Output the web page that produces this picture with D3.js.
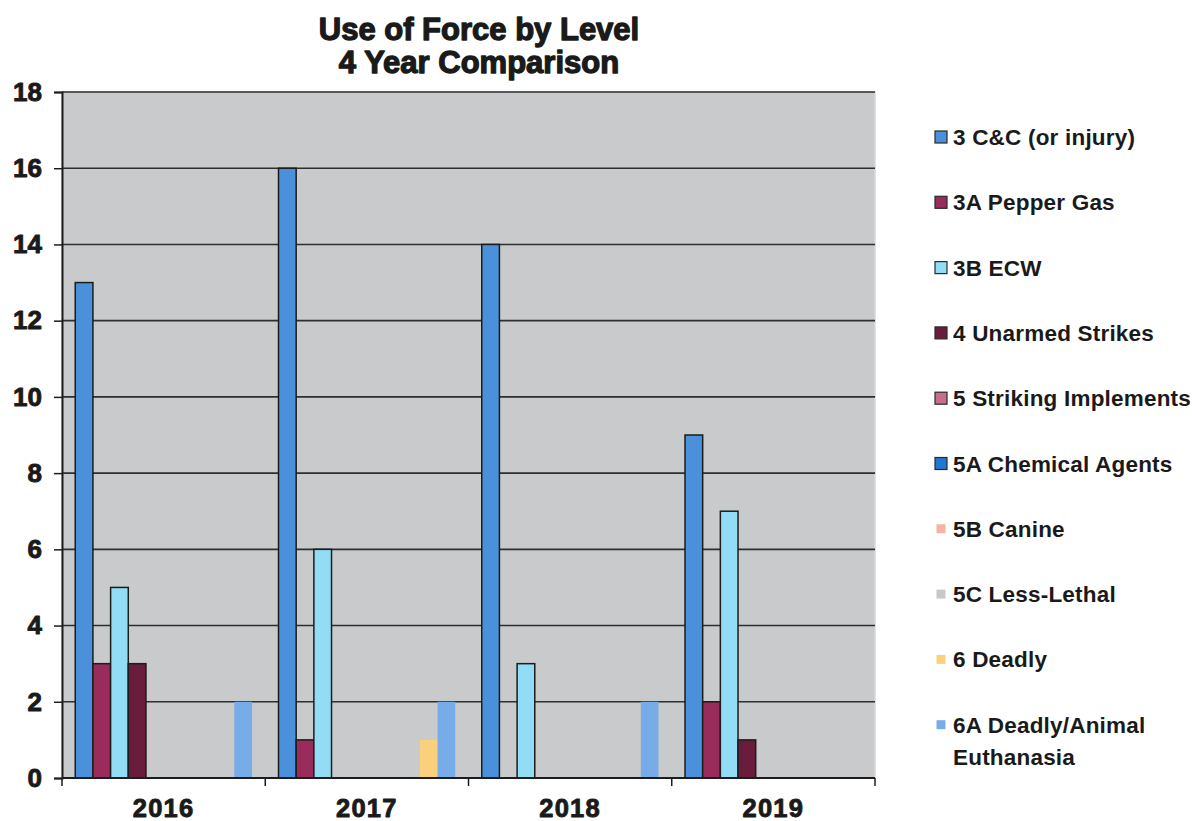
<!DOCTYPE html>
<html>
<head>
<meta charset="utf-8">
<script src="https://cdn.jsdelivr.net/npm/d3@7"></script>
<style>
  html, body { margin: 0; padding: 0; background: #fff; }
  svg { display: block; font-family: "Liberation Sans", Arial, sans-serif; }
</style>
</head>
<body>
<svg id="chart" width="1192" height="821"></svg>
<script>
// Years on the category axis
const years = ["2016", "2017", "2018", "2019"];

// Force levels (one series each)
const levels = [
  "3 C&C (or injury)",
  "3A Pepper Gas",
  "3B ECW",
  "4 Unarmed Strikes",
  "5 Striking Implements",
  "5A Chemical Agents",
  "5B Canine",
  "5C Less-Lethal",
  "6 Deadly",
  "6A Deadly/Animal Euthanasia"
];

// Counts per level, in year order
const c3     = [13, 16, 14, 9];
const c3A    = [3, 1, 0, 2];
const c3B    = [5, 6, 3, 7];
const c4     = [3, 0, 0, 1];
const c5     = [0, 0, 0, 0];
const c5A    = [0, 0, 0, 0];
const c5B    = [0, 0, 0, 0];
const c5C    = [0, 0, 0, 0];
const c6     = [0, 1, 0, 0];
const c6A    = [2, 2, 2, 0];
const seriesValues = [c3, c3A, c3B, c4, c5, c5A, c5B, c5C, c6, c6A];

const yTicks = [0, 2, 4, 6, 8, 10, 12, 14, 16, 18];

const colors = ["#4a90da", "#9a2c5c", "#92dcf6", "#6a1c3c", "#c8708a",
                "#2078d0", "#f6b2a2", "#c8c8c8", "#fbd07c", "#78ace8"];
const outlined = [true, true, true, true, true, true, false, false, false, false];

const svg = d3.select("#chart");
const plot = { left: 62, right: 875, top: 92, bottom: 778 };

const x0 = d3.scaleBand().domain(years).range([plot.left, plot.right]).paddingInner(0).paddingOuter(0);
// Excel-style 150% gap: 10 bars + 1.5 bar widths of gap per group
const x1 = d3.scaleBand().domain(d3.range(levels.length))
  .range([0, x0.bandwidth()]).paddingInner(0).paddingOuter(0.75);
const y = d3.scaleLinear().domain([0, 18]).range([plot.bottom, plot.top]);

// Plot background
svg.append("rect")
  .attr("x", plot.left).attr("y", plot.top)
  .attr("width", plot.right - plot.left).attr("height", plot.bottom - plot.top)
  .attr("fill", "#c9cacc").attr("stroke", "#d8d8d8").attr("stroke-width", 1.5);

// Horizontal gridlines
svg.append("g").selectAll("line").data(yTicks.filter(d => d > 0)).join("line")
  .attr("x1", plot.left).attr("x2", plot.right)
  .attr("y1", d => y(d)).attr("y2", d => y(d))
  .attr("stroke", "#2e2e2e").attr("stroke-width", 1.6);

// Bars
const groups = svg.append("g").selectAll("g").data(years).join("g")
  .attr("transform", d => `translate(${x0(d)},0)`);
groups.selectAll("rect")
  .data((yr, yi) => seriesValues.map((vals, si) => ({ si, v: vals[yi] })).filter(d => d.v > 0))
  .join("rect")
  .attr("x", d => x1(d.si))
  .attr("width", x1.bandwidth())
  .attr("y", d => y(d.v))
  .attr("height", d => y(0) - y(d.v))
  .attr("fill", d => colors[d.si])
  .attr("stroke", d => outlined[d.si] ? "#1c1c1c" : "none")
  .attr("stroke-width", 1.5);

// Heavy label style (bold face thickened with a thin outline)
function heavy(sel, w) {
  sel.attr("font-weight", "bold").attr("fill", "#1a1a1a")
    .attr("stroke", "#1a1a1a").attr("stroke-width", w).attr("stroke-linejoin", "round")
    .attr("font-family", "'Liberation Sans', Arial, sans-serif");
}

// Y axis
const yAxis = d3.axisLeft(y).tickValues(yTicks).tickSize(8).tickPadding(12).tickFormat(d3.format("d"));
const gy = svg.append("g").attr("transform", `translate(${plot.left},0)`).call(yAxis);
gy.select(".domain").attr("stroke", "#1c1c1c").attr("stroke-width", 2);
gy.selectAll(".tick line").attr("stroke", "#1c1c1c").attr("stroke-width", 1.5);
gy.selectAll(".tick text").attr("font-size", 26).call(heavy, 0.9);

// X axis: ticks at category boundaries, labels centred in each band
const gx = svg.append("g").attr("transform", `translate(0,${plot.bottom})`);
gx.append("line").attr("x1", plot.left).attr("x2", plot.right)
  .attr("stroke", "#1c1c1c").attr("stroke-width", 2);
const boundaries = years.map(d => x0(d)).concat([plot.right]);
gx.selectAll("line.tk").data(boundaries).join("line").attr("class", "tk")
  .attr("x1", d => d).attr("x2", d => d).attr("y1", 0).attr("y2", 8)
  .attr("stroke", "#1c1c1c").attr("stroke-width", 1.5);
gx.selectAll("text").data(years).join("text")
  .attr("x", d => x0(d) + x0.bandwidth() / 2)
  .attr("y", 39)
  .attr("text-anchor", "middle")
  .attr("font-size", 25.5)
  .call(heavy, 0.9)
  .attr("letter-spacing", 1.2)
  .text(d => d);

// Title
const title = svg.append("g").attr("text-anchor", "middle").attr("font-size", 31);
title.append("text").attr("x", 479).attr("y", 40).call(heavy, 1.3).text("Use of Force by Level");
title.append("text").attr("x", 479).attr("y", 73).call(heavy, 1.3).text("4 Year Comparison");

// Legend
const legend = svg.append("g").attr("transform", "translate(935,137)");
const items = legend.selectAll("g").data(levels).join("g")
  .attr("transform", (d, i) => `translate(0,${i * 65.3})`);
items.append("rect")
  .attr("x", (d, i) => outlined[i] ? 0 : 1.5)
  .attr("y", (d, i) => outlined[i] ? -6 : -4.5)
  .attr("width", (d, i) => outlined[i] ? 12 : 9)
  .attr("height", (d, i) => outlined[i] ? 12 : 9)
  .attr("fill", (d, i) => colors[i])
  .attr("stroke", (d, i) => outlined[i] ? "#2a2a2a" : "none")
  .attr("stroke-width", 1.2);
const labels = items.append("text")
  .attr("x", 18).attr("y", 8)
  .attr("font-size", 22.5).attr("font-weight", "bold").attr("fill", "#1a1a1a")
  .attr("letter-spacing", 0.2);
labels.each(function(d) {
  const t = d3.select(this);
  if (d === "6A Deadly/Animal Euthanasia") {
    t.append("tspan").attr("x", 18).attr("dy", 0).text("6A Deadly/Animal");
    t.append("tspan").attr("x", 18).attr("dy", 32).text("Euthanasia");
  } else {
    t.text(d);
  }
});
</script>
</body>
</html>
